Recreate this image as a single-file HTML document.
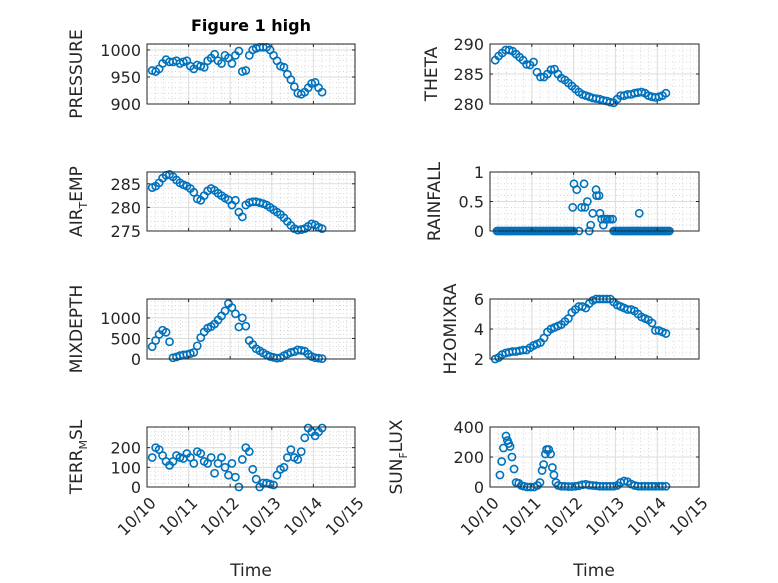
<!DOCTYPE html>
<html><head><meta charset="utf-8"><style>
html,body{margin:0;padding:0;background:#fff;}
svg{display:block;font-family:"DejaVu Sans","Liberation Sans",sans-serif;}
</style></head><body>
<svg id="fig" width="778" height="583" viewBox="0 0 778 583">
<text x="251" y="31" text-anchor="middle" font-size="16" font-weight="bold" fill="#000">Figure 1 high</text>
<text x="251" y="576" text-anchor="middle" font-size="17" fill="#262626">Time</text>
<text x="594" y="576" text-anchor="middle" font-size="17" fill="#262626">Time</text>
</svg>
<script>
// shared time base (hours after 10/10 00:00)
const hours = [3,5,7,9,11,13,15,17,19,21,23,25,27,29,31,33,35,37,39,41,43,45,47,49,51,53,55,57,59,61,63,65,67,69,71,73,75,77,79,81,83,85,87,89,91,93,95,97,99,101];
const xTickLabels = ["10/10","10/11","10/12","10/13","10/14","10/15"];
const pressure = [962,960,965,975,982,978,978,980,975,978,980,970,965,972,970,968,980,985,992,980,975,990,985,975,990,998,960,962,990,1000,1003,1005,1005,1005,1000,990,980,970,968,955,945,932,920,918,922,930,938,940,930,922];
const theta = [287.3,288,288.5,289,289,288.8,288.3,287.8,287.3,286.6,286.5,287,285.3,284.5,284.5,285,285.7,285.8,285,284.3,284,283.5,283,282.5,282,281.6,281.4,281.2,281,280.9,280.8,280.6,280.5,280.3,280.2,280.8,281.4,281.4,281.6,281.6,281.8,281.9,282,281.8,281.4,281.2,281.1,281.2,281.4,281.8];
const airTemp = [284.2,284.5,285.2,286.2,286.8,287,286.5,285.8,285.2,284.8,284.5,284,283.2,281.8,281.5,282.5,283.5,284,283.6,283,282.5,282,281.6,280.5,281.5,279,278,280.5,281,281.2,281.2,281,280.8,280.5,280,279.5,279,278.5,277.8,277,276.2,275.5,275.2,275.3,275.5,276,276.5,276.3,275.8,275.5];
const mixDepth = [300,450,600,700,650,420,30,50,80,100,110,130,160,320,520,660,750,790,850,950,1050,1170,1350,1250,1100,780,1000,800,450,350,250,200,150,100,60,40,20,30,80,120,160,180,220,210,190,120,60,30,20,10];
const h2oMix = [2.0,2.1,2.3,2.4,2.45,2.5,2.5,2.55,2.6,2.6,2.75,2.9,3.0,3.1,3.4,3.8,4.0,4.1,4.2,4.3,4.5,4.7,5.1,5.3,5.5,5.5,5.4,5.7,5.9,6.0,6.0,6.0,6.0,6.0,5.8,5.6,5.5,5.4,5.3,5.3,5.2,5.0,4.8,4.7,4.6,4.4,3.9,3.9,3.8,3.7];
const terrMsl = [150,200,190,160,130,110,130,160,150,145,170,150,120,180,170,130,120,150,70,120,150,100,60,120,50,0,140,200,180,90,40,0,20,20,15,10,60,90,100,150,190,150,140,180,250,300,280,260,280,300];
const rainHours = [4,5,6,7,8,9,10,11,12,13,14,15,16,17,18,19,20,21,22,23,24,25,26,27,28,29,30,31,32,33,34,35,36,37,38,39,40,41,42,43,44,45,46,47,48,47.5,48.2,49.8,51.1,52.6,54,54.5,55.9,57,57.8,59,60.9,61.2,62.6,63.2,64.1,65.1,66,67.4,68.9,70.4,71,72,73,74,75,76,77,78,79,80,81,82,83,84,85,85.7,86,87,88,89,90,91,92,93,94,95,96,97,98,99,100,101,102,103];
const rainVals = [0,0,0,0,0,0,0,0,0,0,0,0,0,0,0,0,0,0,0,0,0,0,0,0,0,0,0,0,0,0,0,0,0,0,0,0,0,0,0,0,0,0,0,0,0,0.4,0.8,0.7,0,0.4,0.8,0.4,0.5,0,0.1,0.3,0.7,0.6,0.6,0.3,0.2,0.1,0.2,0.2,0.2,0.2,0,0,0,0,0,0,0,0,0,0,0,0,0,0,0,0.3,0,0,0,0,0,0,0,0,0,0,0,0,0,0,0,0,0,0,0,0];
const sunHours = [5.7,6.7,7.7,9.2,10,10.7,11.5,12.6,13.8,15,16.5,18,19.5,21.4,23.3,25.3,27.2,28.7,29.9,30.8,31.8,32.5,33.7,34.8,35.8,36.7,37.9,39.2,41,43,45,47,49,51,53,55,57,59,61,63,65,67,69,71,73,75,77,79,81,83,85,87,89,91,93,95,97,99,101];
const sunFlux = [80,170,260,340,310,290,270,200,120,30,25,10,5,0,0,0,10,30,110,150,220,250,250,220,130,80,30,10,5,5,3,3,5,8,15,18,12,10,8,5,5,5,5,5,10,30,40,35,20,10,5,5,5,5,5,5,5,5,5];

const pressureTicks = [900,950,1000];
const thetaTicks = [280,285,290];
const airTicks = [275,280,285];
const rainTicks = ["0","0.5","1"];
const mixTicks = [0,500,1000];
const h2oTicks = [2,4,6];
const terrTicks = [0,100,200];
const sunTicks = [0,200,400];

const NS = "http://www.w3.org/2000/svg";
const svg = document.getElementById("fig");
function mk(tag, attrs, parent){const e=document.createElementNS(NS,tag);for(const k in attrs)e.setAttribute(k,attrs[k]);(parent||svg).appendChild(e);return e;}

const LEFT=[147,355], RIGHT=[490,699];
const ROWS=[[44,104],[172,231],[299,359],[427,487]];
const BLUE="#0072BD", AX="#262626";

function panel(opt){
  const [x0,x1]=opt.col, [y0,y1]=ROWS[opt.row];
  const g=mk("g",{});
  
  
  const xs=d=>x0+(d/5)*(x1-x0);
  const ys=v=>y1-(v-opt.ylim[0])/(opt.ylim[1]-opt.ylim[0])*(y1-y0);
  for(let i=0;i<=25;i++){ if(i%5===0)continue; const x=x0+i*(x1-x0)/25;
    mk("line",{x1:x,x2:x,y1:y0,y2:y1,stroke:"#bdbdbd","stroke-width":0.6,"stroke-dasharray":"1,2.5"},g);}
  const step=(+opt.ticks[1])-(+opt.ticks[0]);
  for(let v=+opt.ticks[0]+step/5; v<opt.ylim[1]; v+=step/5){
    if(Math.abs(((v-opt.ticks[0])/step)-Math.round((v-opt.ticks[0])/step))<1e-6)continue;
    const y=ys(v); mk("line",{x1:x0,x2:x1,y1:y,y2:y,stroke:"#bdbdbd","stroke-width":0.6,"stroke-dasharray":"1,2.5"},g);}
  for(let i=1;i<5;i++){const x=xs(i);mk("line",{x1:x,x2:x,y1:y0,y2:y1,stroke:"#dcdcdc","stroke-width":1},g);}
  opt.ticks.forEach(t=>{const y=ys(+t);mk("line",{x1:x0,x2:x1,y1:y,y2:y,stroke:"#dcdcdc","stroke-width":1},g);});
  opt.xs.forEach((h,i)=>{
    const c=mk("circle",{cx:xs(h/24).toFixed(2),cy:ys(opt.ys[i]).toFixed(2),r:3.6,fill:"none",stroke:BLUE,"stroke-width":1.6},g);
    
    
  });
  mk("rect",{x:x0,y:y0,width:x1-x0,height:y1-y0,fill:"none",stroke:AX,"stroke-width":1},g);
  for(let i=0;i<=5;i++){const x=xs(i);mk("line",{x1:x,x2:x,y1:y1,y2:y1-3,stroke:AX},g);mk("line",{x1:x,x2:x,y1:y0,y2:y0+3,stroke:AX},g);}
  opt.ticks.forEach(t=>{const y=ys(+t);mk("line",{x1:x0,x2:x0+3,y1:y,y2:y,stroke:AX},g);mk("line",{x1:x1,x2:x1-3,y1:y,y2:y,stroke:AX},g);
    const tx=mk("text",{x:x0-6,y:y+6,"text-anchor":"end","font-size":16,fill:AX},g);tx.textContent=t;
    
    });
  if(opt.row===3){
    xTickLabels.forEach((l,i)=>{const x=xs(i);
      const tx=mk("text",{transform:`translate(${x+6},${y1+13}) rotate(-45)`,"text-anchor":"end","font-size":16,fill:AX,dy:"0.35em"},g);tx.textContent=l;
      
      });
  }
  const yl=mk("text",{transform:`translate(${opt.lx},${(y0+y1)/2}) rotate(-90)`,"text-anchor":"middle","font-size":17,fill:AX},g);
  yl.innerHTML=opt.label;
  
  
}
const SUB=(a,b,c)=>`${a}<tspan font-size="11" dy="5">${b}</tspan><tspan dy="-5">${c}</tspan>`;
panel({name:"pressure",col:LEFT,row:0,ylim:[900,1011],ticks:pressureTicks,xs:hours,ys:pressure,label:"PRESSURE",lx:82});
panel({name:"theta",col:RIGHT,row:0,ylim:[280,290],ticks:thetaTicks,xs:hours,ys:theta,label:"THETA",lx:437});
panel({name:"air-temp",col:LEFT,row:1,ylim:[275,287.5],ticks:airTicks,xs:hours,ys:airTemp,label:SUB("AIR","T","EMP"),lx:82});
panel({name:"rainfall",col:RIGHT,row:1,ylim:[0,1],ticks:rainTicks,xs:rainHours,ys:rainVals,label:"RAINFALL",lx:440});
panel({name:"mixdepth",col:LEFT,row:2,ylim:[0,1460],ticks:mixTicks,xs:hours,ys:mixDepth,label:"MIXDEPTH",lx:82});
panel({name:"h2omixra",col:RIGHT,row:2,ylim:[2,6],ticks:h2oTicks,xs:hours,ys:h2oMix,label:"H2OMIXRA",lx:456});
panel({name:"terr-msl",col:LEFT,row:3,ylim:[0,305],ticks:terrTicks,xs:hours,ys:terrMsl,label:SUB("TERR","M","SL"),lx:82});
panel({name:"sun-flux",col:RIGHT,row:3,ylim:[0,400],ticks:sunTicks,xs:sunHours,ys:sunFlux,label:SUB("SUN","F","LUX"),lx:402});
</script>
</body></html>
